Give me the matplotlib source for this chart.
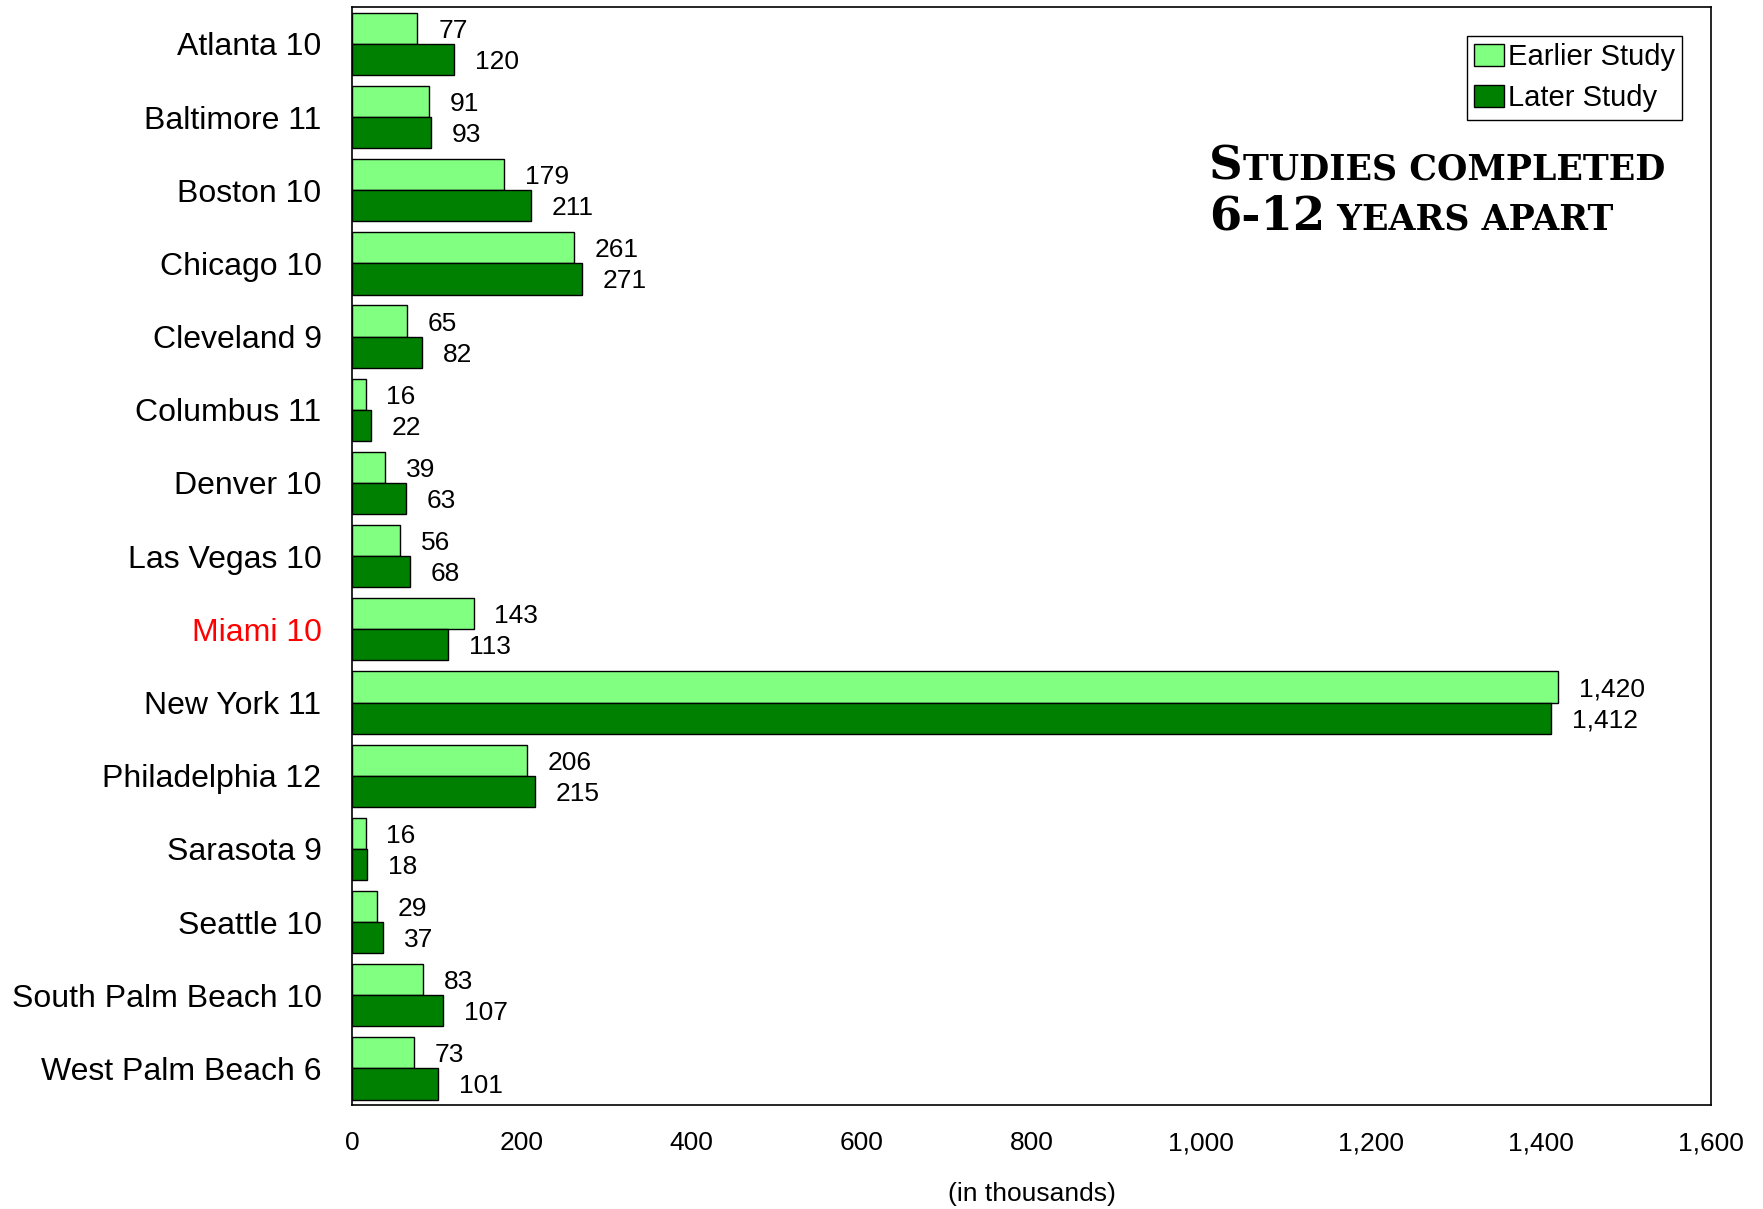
import matplotlib
matplotlib.use("Agg")
import matplotlib.pyplot as plt
import numpy as np
from matplotlib.ticker import FuncFormatter

cities = ["Atlanta 10", "Baltimore 11", "Boston 10", "Chicago 10", "Cleveland 9",
          "Columbus 11", "Denver 10", "Las Vegas 10", "Miami 10", "New York 11",
          "Philadelphia 12", "Sarasota 9", "Seattle 10", "South Palm Beach 10",
          "West Palm Beach 6"]
earlier = [77, 91, 179, 261, 65, 16, 39, 56, 143, 1420, 206, 16, 29, 83, 73]
later = [120, 93, 211, 271, 82, 22, 63, 68, 113, 1412, 215, 18, 37, 107, 101]
xticks = [0, 200, 400, 600, 800, 1000, 1200, 1400, 1600]
highlight = "Miami 10"

plt.rcParams['font.family'] = ['Liberation Sans', 'DejaVu Sans']

fig = plt.figure(figsize=(17.63, 12.09), dpi=100)
ax = fig.add_axes([0.1997, 0.086, 0.7708, 0.908])

y = np.arange(len(cities))
h = 0.425
light = "#80FF80"
dark = "#008000"
ax.barh(y - h/2, earlier, height=h, color=light, edgecolor="black", linewidth=1, label="Earlier Study")
ax.barh(y + h/2, later, height=h, color=dark, edgecolor="black", linewidth=1, label="Later Study")

for yi, v in zip(y, earlier):
    ax.annotate(f"{v:,}", xy=(v, yi - h/2), xytext=(15, 0), textcoords="offset points",
                va="center_baseline", ha="left", fontsize=19)
for yi, v in zip(y, later):
    ax.annotate(f"{v:,}", xy=(v, yi + h/2), xytext=(15, 0), textcoords="offset points",
                va="center_baseline", ha="left", fontsize=19)

ax.set_xlim(0, 1600)
ax.set_ylim(len(cities) - 0.5, -0.5)
ax.set_yticks(y)
ax.set_yticklabels(cities, fontsize=23)
for lbl in ax.get_yticklabels():
    if lbl.get_text() == highlight:
        lbl.set_color("red")
ax.set_xticks(xticks)
ax.xaxis.set_major_formatter(FuncFormatter(lambda v, p: f"{int(v):,}"))
ax.tick_params(axis="x", length=0, pad=19, labelsize=19)
ax.tick_params(axis="y", length=0, pad=22)
ax.set_xlabel("(in thousands)", fontsize=19, labelpad=19)
for s in ax.spines.values():
    s.set_linewidth(1.2)
    s.set_color("black")

leg = ax.legend(loc="upper right", bbox_to_anchor=(0.979, 0.974), fontsize=21,
                frameon=True, fancybox=False, edgecolor="black", framealpha=1,
                handlelength=1.0, handleheight=0.75, handletextpad=0.15,
                borderpad=0.25, labelspacing=0.45, borderaxespad=0)
leg.get_frame().set_linewidth(1)

# Title in small caps
fig.canvas.draw()
renderer = fig.canvas.get_renderer()
W, H = fig.bbox.width, fig.bbox.height
tfont = dict(family="DejaVu Serif", weight="bold", color="black")

def smallcaps(x, yb, parts):
    cur = x
    for txt, size in parts:
        t = fig.text(cur, yb, txt, fontsize=size, ha="left", va="baseline", **tfont)
        bb = t.get_window_extent(renderer)
        cur = bb.x1 / W

big, small = 33.5, 25
smallcaps(1209 / 1763, 1 - 179 / 1209, [("S", big), ("TUDIES COMPLETED", small)])
smallcaps(1209 / 1763, 1 - 229 / 1209, [("6-12", big), (" YEARS APART", small)])

fig.savefig("out.png", dpi=100)
